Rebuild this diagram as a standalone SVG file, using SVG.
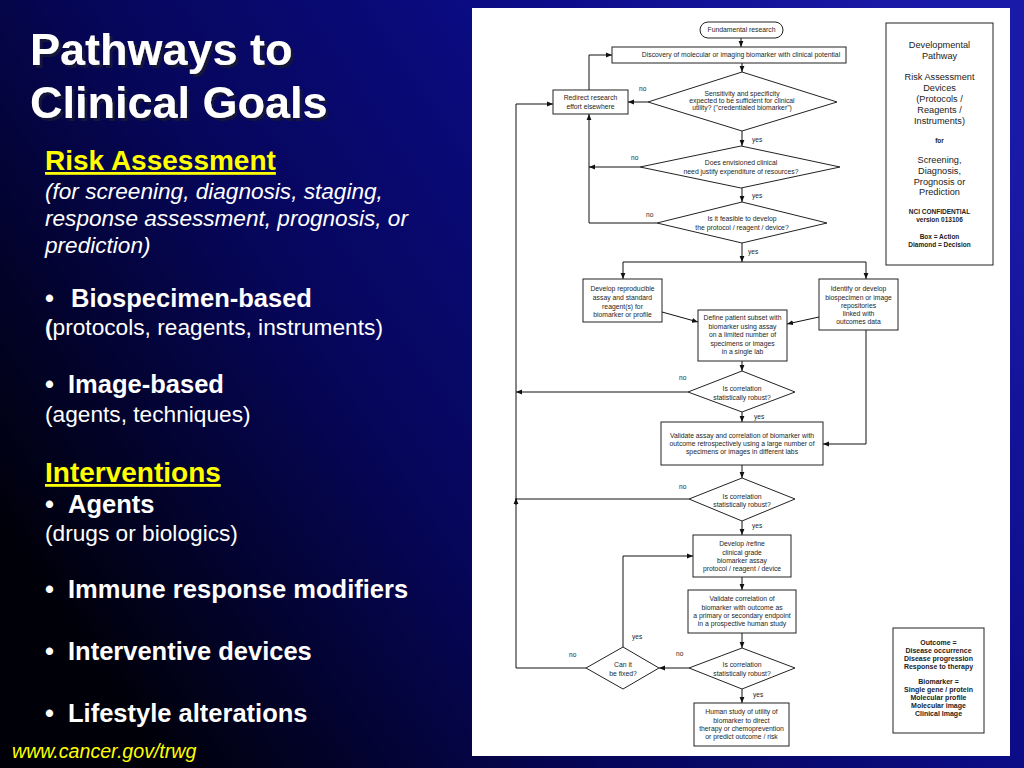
<svg xmlns="http://www.w3.org/2000/svg" width="1024" height="768" viewBox="0 0 1024 768">
<defs>
<linearGradient id="bg" x1="0" y1="0.7" x2="1" y2="0.2">
<stop offset="0" stop-color="#000008"/>
<stop offset="0.35" stop-color="#06065a"/>
<stop offset="0.7" stop-color="#0c0c8a"/>
<stop offset="1" stop-color="#1a1aa8"/>
</linearGradient>
<filter id="sh" x="-5%" y="-20%" width="115%" height="150%">
<feFlood flood-color="#14143a"/>
<feComposite in2="SourceAlpha" operator="in"/>
<feOffset dx="3" dy="3" result="s"/>
<feMerge><feMergeNode in="s"/><feMergeNode in="SourceGraphic"/></feMerge>
</filter>
<marker id="ah" markerUnits="userSpaceOnUse" markerWidth="6" markerHeight="6" refX="6" refY="3" orient="auto">
<path d="M0,0.6 L6,3 L0,5.4 z" fill="#111"/>
</marker>
<style>
.h{font-family:"Liberation Sans",Arial,sans-serif;fill:#fff;font-weight:bold}
.w{font-family:"Liberation Sans",Arial,sans-serif;fill:#fff}
.y{font-family:"Liberation Sans",Arial,sans-serif;fill:#ffff00;font-weight:bold;text-decoration:underline}
.b{font-family:"Liberation Sans",Arial,sans-serif;fill:#fff;font-weight:bold;font-size:25.5px}
.r{font-family:"Liberation Sans",Arial,sans-serif;fill:#fff;font-size:22.7px}
.t{font-family:"Liberation Sans",Arial,sans-serif;fill:#262626;font-size:6.8px;text-anchor:middle}
.lb{font-family:"Liberation Sans",Arial,sans-serif;fill:#262626;font-size:6.6px}
.lg{font-family:"Liberation Sans",Arial,sans-serif;fill:#222;font-size:9.2px;text-anchor:middle}
.ls{font-family:"Liberation Sans",Arial,sans-serif;fill:#222;font-size:6.5px;font-weight:bold;text-anchor:middle}
.lo{font-family:"Liberation Sans",Arial,sans-serif;fill:#222;font-size:7px;font-weight:bold;text-anchor:middle}
.bx{fill:#fff;stroke:#222;stroke-width:1}
.c{fill:none;stroke:#111;stroke-width:1}
.ca{fill:none;stroke:#111;stroke-width:1;marker-end:url(#ah)}
</style>
</defs>
<rect x="0" y="0" width="1024" height="768" fill="url(#bg)"/>

<g id="left-text">
<g filter="url(#sh)">
<text x="30" y="65" class="h" font-size="45">Pathways to</text>
<text x="30" y="118" class="h" font-size="45">Clinical Goals</text>
</g>
<text x="45" y="170" class="y" font-size="28">Risk Assessment</text>
<text class="w" font-size="22.6" font-style="italic"><tspan x="45" y="199">(for screening, diagnosis, staging,</tspan><tspan x="45" y="226">response assessment, prognosis, or</tspan><tspan x="45" y="253">prediction)</tspan></text>
<text x="45" y="307" class="b">•</text><text x="71" y="307" class="b">Biospecimen-based</text>
<text x="45" y="335" class="r"><tspan font-weight="bold">(</tspan>protocols, reagents, instruments)</text>
<text x="45" y="393" class="b">•</text><text x="68" y="393" class="b">Image-based</text>
<text x="45" y="422" class="r">(agents, techniques)</text>
<text x="45" y="482" class="y" font-size="28">Interventions</text>
<text x="45" y="513" class="b">•</text><text x="68" y="513" class="b">Agents</text>
<text x="45" y="541" class="r">(drugs or biologics)</text>
<text x="45" y="598" class="b">•</text><text x="68" y="598" class="b">Immune response modifiers</text>
<text x="45" y="660" class="b">•</text><text x="68" y="660" class="b">Interventive devices</text>
<text x="45" y="722" class="b">•</text><text x="68" y="722" class="b">Lifestyle alterations</text>
<text x="12" y="758" font-family="Liberation Sans, Arial, sans-serif" font-size="19.6" font-style="italic" fill="#ffff00">www.cancer.gov/trwg</text>
</g>

<rect x="472" y="8" width="538" height="748" fill="#fff"/>

<g id="connectors">
<path class="ca" d="M741,38 V47"/>
<path class="ca" d="M742,63 V72"/>
<path class="ca" d="M648,102 H628"/>
<path class="ca" d="M589,90 V55 H612"/>
<path class="ca" d="M742,131 V146"/>
<path class="ca" d="M640,167 H589"/>
<path class="ca" d="M742,188 V202"/>
<path class="ca" d="M657,223 H589 V114"/>
<path class="ca" d="M742,243 V262"/>
<path class="c" d="M623,262 H866"/>
<path class="ca" d="M623,262 V279"/>
<path class="ca" d="M866,262 V279"/>
<path class="ca" d="M662,312 L698,322"/>
<path class="ca" d="M819,317 L787,324"/>
<path class="ca" d="M866,330 V444 H823"/>
<path class="ca" d="M742,361 V371"/>
<path class="ca" d="M688,392 H516"/>
<path class="ca" d="M742,412 V422"/>
<path class="ca" d="M742,465 V478"/>
<path class="c" d="M689,499 H516"/>
<path class="ca" d="M516,505 V498"/>
<path class="ca" d="M742,521 V535"/>
<path class="ca" d="M742,577 V590"/>
<path class="ca" d="M742,633 V648"/>
<path class="ca" d="M689,668 H659"/>
<path class="ca" d="M623,647 V556 H693"/>
<path class="ca" d="M586,668 H516 V104 H553"/>
<path class="ca" d="M742,689 V703"/>
</g>

<g id="edge-labels">
<text class="lb" x="639" y="91">no</text>
<text class="lb" x="752" y="142">yes</text>
<text class="lb" x="631" y="160">no</text>
<text class="lb" x="752" y="198">yes</text>
<text class="lb" x="646" y="217">no</text>
<text class="lb" x="748" y="254">yes</text>
<text class="lb" x="679" y="380">no</text>
<text class="lb" x="754" y="419">yes</text>
<text class="lb" x="679" y="489">no</text>
<text class="lb" x="752" y="528">yes</text>
<text class="lb" x="676" y="656">no</text>
<text class="lb" x="632" y="639">yes</text>
<text class="lb" x="569" y="657">no</text>
<text class="lb" x="753" y="697">yes</text>
</g>

<g id="n-fundamental">
<rect class="bx" x="700" y="22" width="83" height="16" rx="8"/>
<text class="t" x="741.5" y="32.4">Fundamental research</text>
</g>
<g id="n-discovery">
<rect class="bx" x="612" y="47" width="234" height="16"/>
<text class="t" x="741" y="57.4">Discovery of molecular or imaging biomarker with clinical potential</text>
</g>
<g id="n-d1">
<polygon class="bx" points="742,72 837,102 742,131 648,102"/>
<text class="t"><tspan x="742" y="96.3">Sensitivity and specificity</tspan><tspan x="742" y="103.2">expected to be sufficient for clinical</tspan><tspan x="742" y="110.2">utility? ("credentialed biomarker")</tspan></text>
</g>
<g id="n-redirect">
<rect class="bx" x="553" y="90" width="75" height="24"/>
<text class="t"><tspan x="590.5" y="100.3">Redirect research</tspan><tspan x="590.5" y="109.3">effort elsewhere</tspan></text>
</g>
<g id="n-d2">
<polygon class="bx" points="741,146 840,167 741,188 640,167"/>
<text class="t"><tspan x="741" y="165">Does envisioned clinical</tspan><tspan x="741" y="174">need justify expenditure of resources?</tspan></text>
</g>
<g id="n-d3">
<polygon class="bx" points="742,202 827,223 742,243 657,223"/>
<text class="t"><tspan x="742" y="221.3">Is it feasible to develop</tspan><tspan x="742" y="230.3">the protocol / reagent /  device?</tspan></text>
</g>
<g id="n-develop-assay">
<rect class="bx" x="583" y="279" width="79" height="43"/>
<text class="t"><tspan x="622.5" y="291.3">Develop reproducible</tspan><tspan x="622.5" y="300">assay and standard</tspan><tspan x="622.5" y="308.5">reagent(s) for</tspan><tspan x="622.5" y="317">biomarker or profile</tspan></text>
</g>
<g id="n-identify">
<rect class="bx" x="819" y="279" width="79" height="51"/>
<text class="t"><tspan x="858.5" y="291.3">Identify or develop</tspan><tspan x="858.5" y="299.5">biospecimen or image</tspan><tspan x="858.5" y="307.5">repositories</tspan><tspan x="858.5" y="315.5">linked with</tspan><tspan x="858.5" y="324">outcomes data</tspan></text>
</g>
<g id="n-define">
<rect class="bx" x="698" y="310" width="89" height="51"/>
<text class="t"><tspan x="742.5" y="320.3">Define patient subset with</tspan><tspan x="742.5" y="328.8">biomarker using assay</tspan><tspan x="742.5" y="337.3">on a limited number of</tspan><tspan x="742.5" y="345.8">specimens or images</tspan><tspan x="742.5" y="354.3">in a single lab</tspan></text>
</g>
<g id="n-d4">
<polygon class="bx" points="742,371 795,392 742,412 688,392"/>
<text class="t"><tspan x="742" y="391">Is correlation</tspan><tspan x="742" y="400">statistically robust?</tspan></text>
</g>
<g id="n-validate-assay">
<rect class="bx" x="661" y="422" width="162" height="43"/>
<text class="t"><tspan x="742" y="438.3">Validate assay and correlation of biomarker with</tspan><tspan x="742" y="446.3">outcome retrospectively using a large number of</tspan><tspan x="742" y="454.3">specimens or images in different labs</tspan></text>
</g>
<g id="n-d5">
<polygon class="bx" points="742,478 795,499 742,521 689,499"/>
<text class="t"><tspan x="742" y="499">Is correlation</tspan><tspan x="742" y="507">statistically robust?</tspan></text>
</g>
<g id="n-develop-refine">
<rect class="bx" x="693" y="535" width="98" height="42"/>
<text class="t"><tspan x="742" y="546.3">Develop /refine</tspan><tspan x="742" y="554.5">clinical grade</tspan><tspan x="742" y="562.8">biomarker assay</tspan><tspan x="742" y="571.3">protocol / reagent / device</tspan></text>
</g>
<g id="n-validate-correlation">
<rect class="bx" x="688" y="590" width="108" height="43"/>
<text class="t"><tspan x="742" y="601.3">Validate correlation of</tspan><tspan x="742" y="609.5">biomarker with outcome as</tspan><tspan x="742" y="617.8">a primary or secondary endpoint</tspan><tspan x="742" y="626.3">in a prospective human study</tspan></text>
</g>
<g id="n-d6">
<polygon class="bx" points="742,648 795,668 742,689 689,668"/>
<text class="t"><tspan x="742" y="667">Is correlation</tspan><tspan x="742" y="675.5">statistically robust?</tspan></text>
</g>
<g id="n-d7">
<polygon class="bx" points="623,647 659,668 623,689 586,668"/>
<text class="t"><tspan x="623" y="667">Can it</tspan><tspan x="623" y="675.5">be fixed?</tspan></text>
</g>
<g id="n-human">
<rect class="bx" x="694" y="703" width="95" height="43"/>
<text class="t"><tspan x="741.5" y="714.3">Human study of utility of</tspan><tspan x="741.5" y="722.5">biomarker to direct</tspan><tspan x="741.5" y="731">therapy or chemoprevention</tspan><tspan x="741.5" y="739.3">or predict outcome / risk</tspan></text>
</g>

<g id="legend-pathway">
<rect class="bx" x="886" y="23" width="107" height="242"/>
<text class="lg"><tspan x="939.5" y="48">Developmental</tspan><tspan x="939.5" y="59">Pathway</tspan><tspan x="939.5" y="80">Risk Assessment</tspan><tspan x="939.5" y="91">Devices</tspan><tspan x="939.5" y="102">(Protocols /</tspan><tspan x="939.5" y="112.5">Reagents /</tspan><tspan x="939.5" y="123.5">Instruments)</tspan></text>
<text class="ls" x="939.5" y="142.5">for</text>
<text class="lg"><tspan x="939.5" y="163">Screening,</tspan><tspan x="939.5" y="174">Diagnosis,</tspan><tspan x="939.5" y="184.5">Prognosis or</tspan><tspan x="939.5" y="195">Prediction</tspan></text>
<text class="ls"><tspan x="939.5" y="214.3">NCI CONFIDENTIAL</tspan><tspan x="939.5" y="221.5">version 013106</tspan><tspan x="939.5" y="239.3">Box = Action</tspan><tspan x="939.5" y="247.3">Diamond = Decision</tspan></text>
</g>
<g id="legend-outcome">
<rect class="bx" x="893" y="628" width="91" height="105"/>
<text class="lo"><tspan x="938.5" y="645.3">Outcome =</tspan><tspan x="938.5" y="653.3">Disease occurrence</tspan><tspan x="938.5" y="661.3">Disease progression</tspan><tspan x="938.5" y="669.3">Response to therapy</tspan><tspan x="938.5" y="684.3">Biomarker =</tspan><tspan x="938.5" y="692.3">Single gene / protein</tspan><tspan x="938.5" y="700.3">Molecular profile</tspan><tspan x="938.5" y="708.3">Molecular image</tspan><tspan x="938.5" y="716.3">Clinical Image</tspan></text>
</g>
</svg>
